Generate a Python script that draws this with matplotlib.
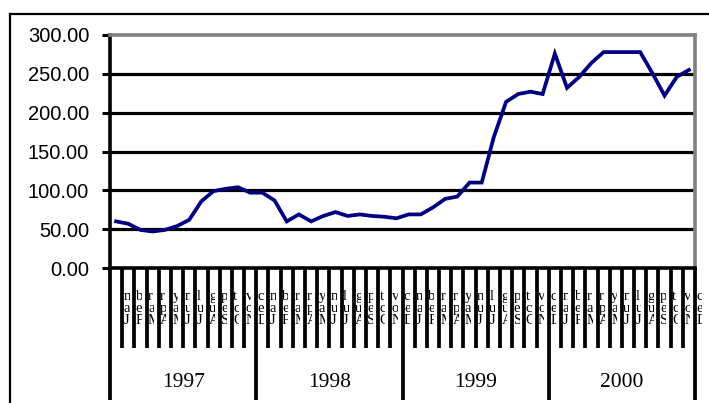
import matplotlib
matplotlib.use("Agg")
import matplotlib.pyplot as plt
import matplotlib.transforms as mtransforms
from matplotlib.lines import Line2D

years = ["1997", "1998", "1999", "2000"]
months = ["Jan", "Feb", "Mar", "Apr", "May", "Jun",
          "Jul", "Aug", "Sep", "Oct", "Nov", "Dec"]
values = [60, 57, 49, 47, 49, 54, 62, 86, 99, 102, 104, 97,
          97, 87, 60, 69, 60, 67, 72, 67, 69, 67, 66, 64,
          69, 69, 78, 89, 92, 110, 110, 169, 214, 224, 227, 224,
          276, 232, 246, 264, 278, 278, 278, 278, 251, 222, 246, 255]
yticks = [0, 50, 100, 150, 200, 250, 300]

W, H = 709, 403
fig = plt.figure(figsize=(W / 100, H / 100), dpi=100)
ax = fig.add_axes([110 / W, (H - 268) / H, 585 / W, 233 / H])

n = len(values)
xs = [i + 0.5 for i in range(n)]
ax.plot(xs, values, color="#000080", lw=2.7, solid_joinstyle="miter", zorder=3)

ax.set_xlim(0, n)
ax.set_ylim(0, 300)
ax.set_yticks(yticks)
ax.set_yticklabels([f"{v:.2f}" for v in yticks], fontsize=14.5, family="Liberation Sans")
ax.tick_params(axis="y", length=6, width=2.2, direction="out", pad=9)
ax.set_xticks([])
for v in yticks[1:-1]:
    ax.axhline(v, color="black", lw=2.3, zorder=1)

ax.spines["left"].set_linewidth(2.6)
ax.spines["bottom"].set_linewidth(2.6)
for s in ["top", "right"]:
    ax.spines[s].set_color("#808080")
    ax.spines[s].set_linewidth(2.6)

# category axis: long tick bars, clipped month labels, year groups
trans = mtransforms.blended_transform_factory(ax.transData, ax.transAxes)
for i in range(n + 1):
    bottom = -0.567 if i % 12 == 0 else -0.343
    ax.plot([i, i], [0, bottom], color="black", lw=2.7, transform=trans,
            clip_on=False, zorder=4, solid_capstyle="butt")

for i in range(n):
    lab = months[i % 12]
    t = ax.text(i + 1.12, -0.095, "\n".join(reversed(lab)), transform=trans,
                ha="left", va="top", fontsize=10.5, family="Liberation Serif",
                linespacing=0.9, clip_on=True)
    box = mtransforms.TransformedBbox(
        mtransforms.Bbox([[i + 1, -0.31], [i + 1.6, -0.09]]), trans)
    t.set_clip_box(box)

for k, yr in enumerate(years):
    ax.text(k * 12 + 6, -0.49, yr, transform=trans, ha="center", va="center",
            fontsize=15.5, family="Liberation Serif")

# outer chart frame (left and top edges only visible)
fig.add_artist(Line2D([10 / W, 10 / W], [0, (H - 14) / H], color="black", lw=1.6,
                      transform=fig.transFigure))
fig.add_artist(Line2D([10 / W, 1], [(H - 14) / H, (H - 14) / H], color="black", lw=1.6,
                      transform=fig.transFigure))

fig.savefig("out.png", dpi=100)
